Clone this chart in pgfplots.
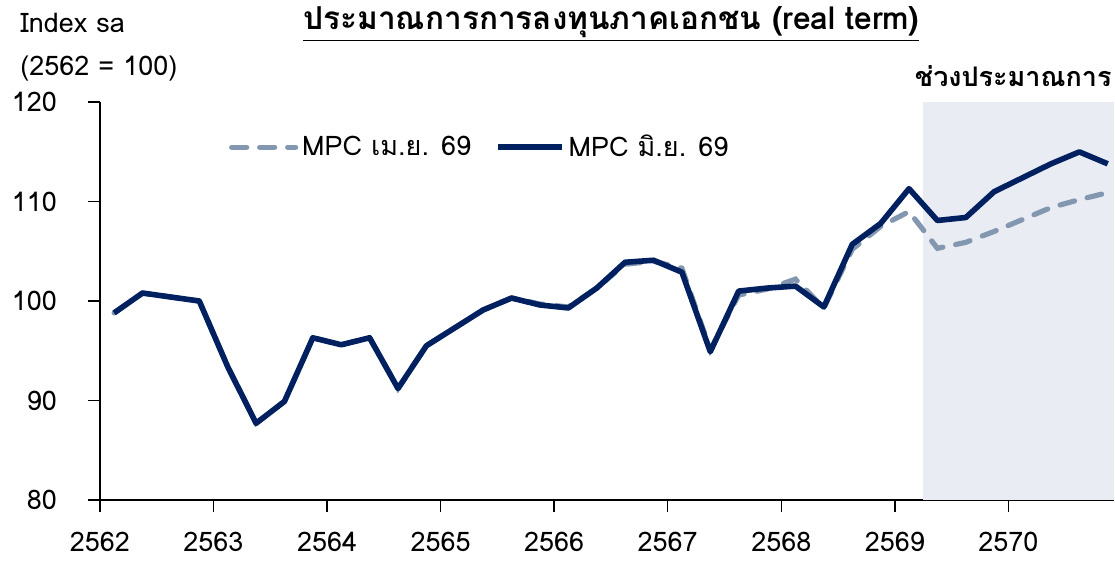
\documentclass[border=0pt]{standalone}
\usepackage{pgfplots}
\pgfplotsset{compat=1.18}
\usepackage{fontspec}
\setmainfont[Script=Thai]{Loma}
\definecolor{navy}{RGB}{0,32,96}
\definecolor{greyblue}{RGB}{132,151,176}
\definecolor{fcbg}{RGB}{233,237,243}

\begin{document}
\begin{tikzpicture}
\begin{axis}[
  scale only axis,
  width=507.5pt, height=199pt,
  xmin=2562, xmax=2570.93, ymin=80, ymax=120,
  axis x line*=bottom, axis y line*=left,
  axis line style={line width=1pt},
  xtick={2562,2563,2564,2565,2566,2567,2568,2569,2570},
  xticklabels={2562,2563,2564,2565,2566,2567,2568,2569,2570},
  ytick={80,90,100,110,120},
  yticklabels={80,90,100,110,120},
  tick align=outside,
  major tick length=6pt,
  tick style={line width=0.7pt, black},
  x tick label style={font=\fontsize{13.5}{16}\selectfont, yshift=-6.5pt},
  y tick label style={font=\fontsize{13.5}{16}\selectfont, xshift=-12pt},
  clip=false,
  legend style={draw=none, fill=none, at={(0.127,0.887)}, anchor=west,
    font=\fontsize{13.5}{16}\selectfont, legend columns=2, inner sep=0pt,
    /tikz/every even column/.append style={column sep=10pt}},
  legend cell align=left,
  legend image code/.code={\draw[#1] (0pt,0pt) -- (32pt,0pt);},
]
\fill[fcbg] (axis cs:2569.25,80) rectangle (axis cs:2570.93,120);

\addplot[greyblue, line width=2.6pt, dash pattern=on 7.5pt off 6.5pt, line cap=round] coordinates {
(2562.125,98.8) (2562.375,100.8) (2562.625,100.4) (2562.875,100.0)
(2563.125,93.4) (2563.375,87.7) (2563.625,89.9) (2563.875,96.3)
(2564.125,95.6) (2564.375,96.3) (2564.625,91.2) (2564.875,95.5)
(2565.125,97.3) (2565.375,99.1) (2565.625,100.3) (2565.875,99.7)
(2566.125,99.4) (2566.375,101.3) (2566.625,103.7) (2566.875,104.0)
(2567.125,103.3) (2567.375,95.1) (2567.625,100.6) (2567.875,101.2)
(2568.125,102.2) (2568.375,99.3) (2568.625,105.2) (2568.875,107.5)
(2569.125,109.0) (2569.375,105.3) (2569.625,105.9) (2569.875,107.0)
(2570.125,108.2) (2570.375,109.4) (2570.625,110.2) (2570.875,110.9)
};
\addlegendentry{MPC เม.ย. 69}

\addplot[navy, line width=2.8pt, line join=round] coordinates {
(2562.125,98.8) (2562.375,100.8) (2562.625,100.4) (2562.875,100.0)
(2563.125,93.4) (2563.375,87.7) (2563.625,89.9) (2563.875,96.3)
(2564.125,95.6) (2564.375,96.3) (2564.625,91.2) (2564.875,95.5)
(2565.125,97.3) (2565.375,99.1) (2565.625,100.3) (2565.875,99.6)
(2566.125,99.3) (2566.375,101.3) (2566.625,103.9) (2566.875,104.1)
(2567.125,102.9) (2567.375,94.9) (2567.625,101.0) (2567.875,101.3)
(2568.125,101.5) (2568.375,99.4) (2568.625,105.7) (2568.875,107.8)
(2569.125,111.3) (2569.375,108.1) (2569.625,108.4) (2569.875,111.0)
(2570.125,112.4) (2570.375,113.8) (2570.625,115.0) (2570.875,113.8)
};
\addlegendentry{MPC มิ.ย. 69}
\end{axis}

\node[anchor=west, inner sep=0pt, font=\fontsize{13.5}{16}\selectfont] at (-40pt,238.5pt) {Index sa};
\node[anchor=west, inner sep=0pt, font=\fontsize{13.5}{16}\selectfont] at (-40pt,216pt) {(2562 = 100)};
\node[font=\bfseries\fontsize{15.8}{19}\selectfont] at (256pt,238pt) {\underline{ประมาณการการลงทุนภาคเอกชน (real term)}};
\node[anchor=east, font=\bfseries\fontsize{13.5}{16}\selectfont, inner sep=0pt] at (506.5pt,212pt) {ช่วงประมาณการ};
\path[use as bounding box] (-50pt,-31.5pt) rectangle (507.5pt,249.5pt);
\end{tikzpicture}
\end{document}
